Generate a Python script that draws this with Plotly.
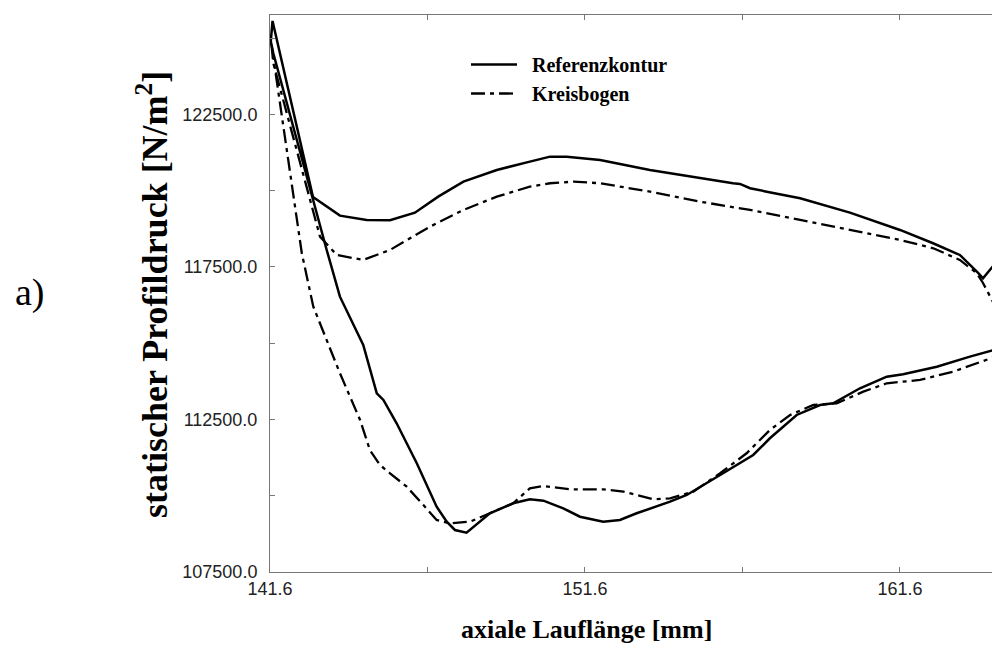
import plotly.graph_objects as go

# Referenzkontur (solid): pressure side (leading -> trailing edge), then suction side back
ref_x = [141.616, 141.68, 142.965, 143.82, 144.67, 145.41, 146.20, 146.94, 147.74, 148.80,
         149.85, 150.49, 151.02, 152.08, 153.66, 155.25, 156.30, 156.52, 156.84, 157.37,
         158.43, 160.01, 161.60, 162.65, 163.50, 164.08, 164.235, 164.585, 164.775, 165.09,
         164.775, 163.82, 162.77, 161.70, 161.18, 160.33, 159.48, 159.06, 158.32, 157.47,
         156.94, 155.89, 154.83, 154.30, 153.24, 152.71, 152.18, 151.44, 150.91, 150.28,
         149.85, 149.32, 148.58, 147.84, 147.47, 147.21, 146.89, 146.26, 145.62, 145.20,
         144.99, 144.56, 143.82, 143.40, 141.705, 141.616]
ref_y = [124779, 125566, 119795, 119182, 119041, 119031, 119280, 119805, 120297, 120680,
         120952, 121116, 121116, 121008, 120680, 120408, 120244, 120221, 120080, 119969,
         119753, 119280, 118713, 118277, 117893, 117303, 117130, 117566, 116156, 115434,
         114834, 114559, 114231, 113982, 113903, 113523, 113031, 112975, 112648, 111884,
         111336, 110680, 110025, 109805, 109425, 109205, 109149, 109313, 109589, 109838,
         109884, 109752, 109425, 108789, 108877, 109149, 109641, 111064, 112375, 113139,
         113359, 114943, 116526, 118057, 124507, 124943]

# Kreisbogen (dash-dot)
kb_x = [141.648, 141.705, 143.187, 143.72, 144.56, 145.41, 146.68, 147.74, 148.80, 149.85,
        150.49, 151.23, 152.08, 153.66, 155.25, 156.84, 158.43, 160.01, 161.60, 162.66,
        163.50, 164.04, 164.235, 165.09,
        164.775, 163.29, 162.235, 161.18, 160.435, 159.59, 158.85, 158.11, 157.47, 156.73,
        155.89, 155.04, 154.30, 153.77, 152.82, 152.18, 151.12, 150.28, 149.85, 149.32,
        148.58, 147.95, 147.31, 146.89, 146.47, 145.94, 145.41, 145.09, 144.77, 144.46,
        143.82, 143.40, 142.975, 142.61, 141.76, 141.648]
kb_y = [124779, 124179, 118494, 117893, 117730, 118057, 118821, 119369, 119805, 120133,
        120244, 120297, 120244, 119969, 119641, 119369, 119041, 118713, 118385, 118113,
        117730, 117293, 116975, 115300,
        114615, 114067, 113795, 113687, 113412, 113031, 112975, 112648, 112156, 111392,
        110736, 110133, 109916, 109884, 110133, 110211, 110211, 110320, 110244, 109752,
        109425, 109149, 109097, 109205, 109697, 110297, 110736, 111008, 111500, 112484,
        114015, 115107, 116198, 117949, 123959, 124779]

x_tickvals = [141.6, 151.6, 161.6]
x_ticktext = ["141.6", "151.6", "161.6"]
x_minorvals = [146.6, 156.6]
y_tickvals = [107500, 112500, 117500, 122500]
y_ticktext = ["107500.0", "112500.0", "117500.0", "122500.0"]
y_minorvals = [110000, 115000, 120000, 125000]

# page has an 8px body margin: figure origin sits at page (8, 8)
PL, PR, PT, PB = 262, 992, 7, 564   # plot area edges in figure pixels
W, H = 992, 640

fig = go.Figure()
fig.add_trace(go.Scatter(x=ref_x, y=ref_y, mode="lines", name="<b>\u00a0\u00a0Referenzkontur</b>",
                         line=dict(color="black", width=2.5)))
fig.add_trace(go.Scatter(x=kb_x, y=kb_y, mode="lines", name="<b>\u00a0\u00a0Kreisbogen</b>",
                         line=dict(color="black", width=2.3, dash="14px,5px,4px,5px")))

axis_common = dict(showgrid=False, zeroline=False, showline=True, linecolor="#777",
                   linewidth=1, ticks="inside", ticklen=5, tickcolor="#777",
                   tickfont=dict(family="Liberation Sans", size=18, color="#222"))

fig.update_xaxes(range=[141.6, 164.775], tickvals=x_tickvals, ticktext=x_ticktext,
                 minor=dict(tickmode="array", tickvals=x_minorvals, ticks="inside",
                            ticklen=5, tickcolor="#777", showgrid=False),
                 mirror="ticks", **axis_common)
fig.update_yaxes(range=[107500, 125760], tickvals=y_tickvals, ticktext=y_ticktext,
                 minor=dict(tickmode="array", tickvals=y_minorvals, ticks="inside",
                            ticklen=5, tickcolor="#777", showgrid=False),
                 mirror=False, ticklabelstandoff=8, **axis_common)

pw, ph = PR - PL, PB - PT


def px(xp):
    return (xp - 8 - PL) / pw


def py(yp):
    return (PB - (yp - 8)) / ph


fig.update_layout(
    width=W, height=H,
    margin=dict(l=PL, r=W - PR, t=PT, b=H - PB),
    paper_bgcolor="white", plot_bgcolor="white",
    showlegend=True,
    legend=dict(x=px(466), y=py(45), xanchor="left", yanchor="top",
                bgcolor="rgba(0,0,0,0)", itemwidth=46, tracegroupgap=0,
                font=dict(family="Liberation Serif", size=20, color="black"),
                traceorder="normal"),
    annotations=[
        dict(text="<b>axiale Lauflänge [mm]</b>", xref="paper", yref="paper",
             x=px(586), y=py(629), xanchor="center", yanchor="middle",
             showarrow=False, font=dict(family="Liberation Serif", size=26, color="black")),
        dict(text="<b>statischer Profildruck [N/m<sup>2</sup>]</b>", xref="paper", yref="paper",
             x=px(152), y=py(295), xanchor="center", yanchor="middle",
             textangle=-90, showarrow=False,
             font=dict(family="Liberation Serif", size=36, color="black")),
        dict(text="a)", xref="paper", yref="paper",
             x=px(30), y=py(292), xanchor="center", yanchor="middle",
             showarrow=False, font=dict(family="Liberation Serif", size=38, color="black")),
    ],
)

fig.write_html("out.html")
